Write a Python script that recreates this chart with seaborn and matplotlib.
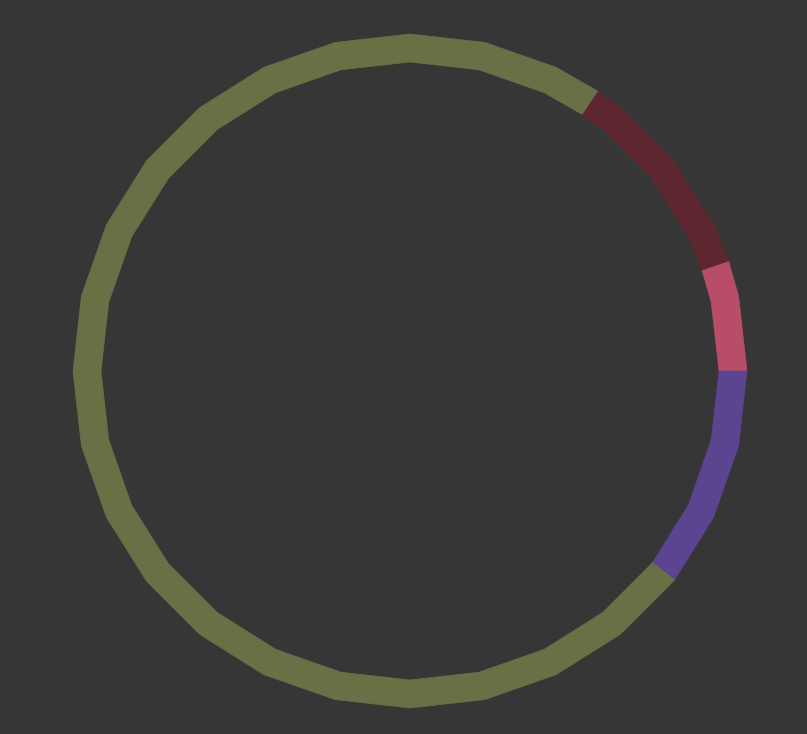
import numpy as np
import matplotlib
matplotlib.use("Agg")
import matplotlib.pyplot as plt
import seaborn as sns

# slice shares (percent), counter-clockwise from 3 o'clock
labels = ["pink", "darkred", "olive", "purple"]
shares = [5.3, 10.3, 73.8, 10.6]
colors = ["#b84d69", "#5e2730", "#6a7046", "#5b4490"]

sns.set_style("dark", {"axes.facecolor": "#363636", "figure.facecolor": "#363636"})

fig = plt.figure(figsize=(8.07, 7.34), dpi=100)
ax = fig.add_axes([0, 0, 1, 1])
ax.set_facecolor("#363636")

r_out, r_in = 1.0, 309 / 337
n_sides = 28
step = 360 / n_sides

bounds = np.concatenate([[0], np.cumsum(shares) / np.sum(shares) * 360])
for i, lab in enumerate(labels):
    a0, a1 = bounds[i], bounds[i + 1]
    # polygon vertices: segment ends plus the 28-gon corners inside
    corners = np.arange(np.ceil(a0 / step) * step, a1, step)
    angs = np.unique(np.concatenate([[a0], corners, [a1]]))
    t = np.deg2rad(angs)
    xs = np.concatenate([r_out * np.cos(t), r_in * np.cos(t[::-1])])
    ys = np.concatenate([r_out * np.sin(t), r_in * np.sin(t[::-1])])
    ax.fill(xs, ys, color=colors[i], lw=0.5, ec=colors[i], label=lab)

ax.set_xlim(-410 / 337, (807 - 410) / 337)
ax.set_ylim(-363 / 337, 371 / 337)
ax.set_aspect("equal")
ax.axis("off")

fig.savefig("out.png", dpi=100, facecolor="#363636")
